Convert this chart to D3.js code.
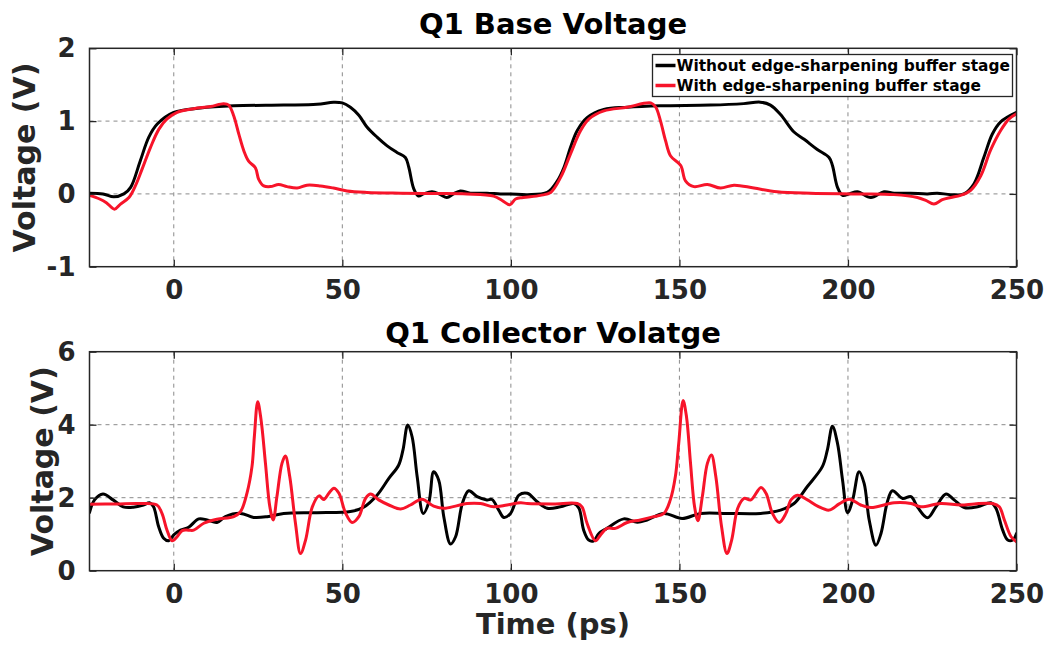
<!DOCTYPE html>
<html>
<head>
<meta charset="utf-8">
<script src="https://cdn.jsdelivr.net/npm/d3@7"></script>
<style>
  html, body { margin: 0; padding: 0; background: #fff; }
  svg { display: block; font-family: "DejaVu Sans", sans-serif; font-weight: bold; }
</style>
</head>
<body>
<svg id="chart" width="1057" height="645"></svg>
<script>
// Time samples (ps) and voltages (V) for each trace
const baseBlackT = [-25,-21,-17.8,-14.8,-12.8,-9.9,-7.4,-4.9,0,7.9,17.8,32.6,42.5,47.4,50,52.4,54.9,57.3,60.3,63.3,66.2,68.7,69.7,71.2,72.6,74.1,76.6,79.1,81,83,85,88,92.9,96.9,100,104.9,110.8,113.8,115.8,117.7,119.7,122.7,127.6,134.5,144.4,159.2,169.1,174,177,180,184,187,190.9,194.4,195.4,196.9,198.4,200.4,202.8,206.8,210.7,213.7,218.6,223.6,226.5,230.5,234.4,237.4,240.3,242.8,245.3,250];
const baseBlackV = [0.01,0,-0.04,0,0.09,0.46,0.78,0.96,1.12,1.18,1.21,1.22,1.23,1.26,1.25,1.19,1.08,0.92,0.78,0.66,0.57,0.50,0.37,0.07,-0.03,0,0.03,-0.01,-0.05,0,0.04,0.01,0.01,0,0,-0.01,0.02,0.18,0.37,0.64,0.87,1.05,1.16,1.19,1.21,1.22,1.24,1.26,1.22,1.09,0.85,0.75,0.61,0.50,0.39,0.09,-0.02,0,0.03,-0.05,0.03,0.01,0.01,0,0.01,-0.01,0,0.14,0.50,0.82,0.99,1.12];

const baseRedT = [-25,-22,-20,-17.6,-15.8,-13.3,-11.4,-9.4,-6.9,-4.4,-2,1,5.9,10.9,14.8,16.3,17.8,19.3,20.8,22.2,24.2,25.2,26.7,28.7,31.1,33.6,36.6,39.5,43.5,47.4,51.4,57.3,67.2,77.1,87,94.9,97.4,99.7,101.4,103.6,108.8,111.8,114.8,117.7,120.7,123.2,127.6,134.5,141.5,143,144.4,145.9,147.4,150.4,151.8,154.3,158.3,162.2,166.2,172.1,179,188.9,203.7,213.6,220.6,223.1,225.5,228,230.5,233.4,236.4,239.4,242.3,245.3,247.8,250];
const baseRedV = [-0.02,-0.07,-0.12,-0.21,-0.14,-0.05,0.11,0.34,0.64,0.89,1.03,1.12,1.17,1.20,1.24,1.22,1.07,0.82,0.59,0.45,0.36,0.20,0.11,0.10,0.13,0.10,0.08,0.12,0.11,0.08,0.04,0.02,0.01,0.005,0,-0.03,-0.09,-0.15,-0.07,-0.05,-0.02,0.02,0.23,0.55,0.87,1.03,1.14,1.19,1.25,1.19,1.0,0.73,0.52,0.39,0.18,0.10,0.13,0.08,0.12,0.08,0.03,0.01,0,-0.01,-0.05,-0.09,-0.14,-0.08,-0.05,-0.02,0.05,0.25,0.60,0.87,1.03,1.10];

const collBlackT = [-25,-23.5,-21,-18,-15,-12,-9,-7.2,-6,-4.5,-3,-1.5,0,2,4.4,7.4,9.9,12.8,15.3,19.8,23.7,27.7,32.6,42.5,52.4,56.3,60.3,63.8,66.7,68,69.4,70.7,72.2,74,75.7,77.1,78.6,80.1,82.1,83.6,85.6,87.5,90,92.9,94.4,96.4,97.9,99.9,102.4,104.9,107.8,110.8,114.7,118.7,120.2,121.6,123.1,124.6,126.1,128.5,133.5,137.5,140.4,145.4,150.8,156.3,164.2,174.1,180,184,187.9,192.4,193.9,195.4,196.9,198.4,199.9,201.4,203.3,204.8,206.3,208.3,209.8,211.7,213.2,216.2,218.7,220.6,223.6,226.1,229.1,231.5,234.5,238.5,242.4,243.9,245.9,247.4,248.9,250];
const collBlackV = [1.59,1.94,2.10,1.94,1.75,1.74,1.80,1.86,1.75,1.21,0.89,0.82,0.98,1.11,1.19,1.42,1.39,1.32,1.48,1.57,1.46,1.48,1.57,1.59,1.62,1.74,2.07,2.53,2.89,3.31,3.99,3.67,2.58,1.57,1.89,2.71,2.48,1.48,0.73,0.93,1.84,2.19,2.03,1.94,1.95,1.66,1.46,1.57,2.07,2.12,1.89,1.71,1.75,1.84,1.71,1.11,0.84,0.82,1.02,1.16,1.42,1.33,1.39,1.57,1.43,1.57,1.57,1.57,1.66,1.84,2.30,2.85,3.31,3.96,3.49,2.48,1.59,1.94,2.71,2.39,1.39,0.70,1.02,1.89,2.19,1.98,2.03,1.75,1.45,1.75,2.10,1.94,1.73,1.75,1.86,1.71,1.11,0.84,0.84,1.02];

const collRedT = [-25,-17,-10,-5,-3.5,-2,-0.5,1,2.5,4.4,5.9,8.9,12.8,17.8,19.8,21.7,23.2,23.9,24.9,25.9,27.2,28.5,29.5,30.6,32.1,33.1,34.4,36.1,37.6,39.1,41.1,43.1,44.5,46,47.5,49,51,52.9,54.9,56.9,58.4,60.8,63.8,67.3,70.2,73.6,77.1,80.1,87,91,94.9,98.9,102.9,104.9,112.7,119.7,121.1,122.6,125.1,126.6,128.5,131,134.5,138.4,142.4,145.4,147.3,148.8,149.8,151.1,152.1,153.3,154.5,155.5,156.8,158.3,159.5,160.8,162.5,164.1,165.5,167.3,169.2,171.2,174.2,175.7,177.6,179.6,181.6,183.1,185,188,191,194.4,197.4,200.4,203.8,206.8,213.7,218.7,221.6,227.5,233.5,237.5,242.9,244.9,246.4,248.4,250];
const collRedV = [1.82,1.83,1.84,1.80,1.57,1.11,0.82,0.93,1.10,1.11,1.11,1.30,1.41,1.48,1.62,2.12,2.85,3.67,4.63,4.13,2.94,1.75,1.39,2.03,2.94,3.14,2.58,1.30,0.47,0.84,1.75,2.05,1.95,2.12,2.26,2.12,1.57,1.32,1.48,1.98,2.10,1.94,1.80,1.69,1.80,1.96,1.77,1.71,1.84,1.84,1.75,1.80,1.86,1.84,1.83,1.84,1.75,1.30,0.82,0.98,1.16,1.16,1.32,1.39,1.48,1.57,1.94,2.58,3.49,4.66,4.22,2.94,1.75,1.37,2.03,2.94,3.17,2.58,1.21,0.47,0.84,1.71,1.98,1.94,2.28,2.12,1.57,1.32,1.57,1.94,2.07,1.94,1.77,1.66,1.83,1.96,1.80,1.73,1.86,1.84,1.75,1.84,1.80,1.83,1.84,1.75,1.39,0.93,0.79];

const xTicks = [0, 50, 100, 150, 200, 250];
const baseYTicks = [-1, 0, 1, 2];
const collYTicks = [0, 2, 4, 6];
const seriesNames = ["Without edge-sharpening buffer stage", "With edge-sharpening buffer stage"];
const seriesColors = ["#000000", "#f7142a"];

const svg = d3.select("#chart");
svg.append("rect").attr("width", 1057).attr("height", 645).attr("fill", "#fff");

const plotLeft = 89.5, plotRight = 1016.5;
const x = d3.scaleLinear().domain([-25, 250]).range([plotLeft, plotRight]);
const axisColor = "#262626";
const intFormat = d3.formatLocale({ decimal: ".", thousands: ",", grouping: [3], currency: ["", ""], minus: "-" }).format("d");

function panel(cfg) {
  const y = d3.scaleLinear().domain(cfg.yDomain).range([cfg.bottom, cfg.top]);
  const g = svg.append("g");

  // dashed grid
  g.append("g").selectAll("line").data(xTicks.filter(t => t > -25 && t < 250)).join("line")
    .attr("x1", d => x(d)).attr("x2", d => x(d))
    .attr("y1", cfg.top).attr("y2", cfg.bottom)
    .attr("stroke", "#8a8a8a").attr("stroke-width", 1).attr("stroke-dasharray", "4,4");
  g.append("g").selectAll("line").data(cfg.yTicks.filter(t => t > cfg.yDomain[0] && t < cfg.yDomain[1])).join("line")
    .attr("x1", plotLeft).attr("x2", plotRight)
    .attr("y1", d => y(d)).attr("y2", d => y(d))
    .attr("stroke", "#8a8a8a").attr("stroke-width", 1).attr("stroke-dasharray", "4,4");

  // data lines
  const line = d3.line().x(d => x(d[0])).y(d => y(d[1])).curve(d3.curveCatmullRom.alpha(0.5));
  const clipId = "clip-" + cfg.id;
  svg.append("clipPath").attr("id", clipId).append("rect")
    .attr("x", plotLeft).attr("y", cfg.top).attr("width", plotRight - plotLeft).attr("height", cfg.bottom - cfg.top);
  cfg.series.forEach((s, i) => {
    g.append("path")
      .attr("d", line(d3.zip(s[0], s[1])))
      .attr("fill", "none").attr("stroke", seriesColors[i])
      .attr("stroke-width", 3).attr("stroke-linejoin", "round").attr("stroke-linecap", "round")
      .attr("clip-path", `url(#${clipId})`);
  });

  // axes with inward ticks on all four sides
  const tickLen = 7;
  const xb = d3.axisBottom(x).tickValues(xTicks).tickSizeInner(-tickLen).tickSizeOuter(0).tickPadding(14).tickFormat(intFormat);
  const xt = d3.axisTop(x).tickValues(xTicks).tickSizeInner(-tickLen).tickSizeOuter(0).tickFormat("");
  const yl = d3.axisLeft(y).tickValues(cfg.yTicks).tickSizeInner(-tickLen).tickSizeOuter(0).tickPadding(14).tickFormat(intFormat);
  const yr = d3.axisRight(y).tickValues(cfg.yTicks).tickSizeInner(-tickLen).tickSizeOuter(0).tickFormat("");

  const gxb = g.append("g").attr("transform", `translate(0,${cfg.bottom})`).call(xb);
  const gxt = g.append("g").attr("transform", `translate(0,${cfg.top})`).call(xt);
  const gyl = g.append("g").attr("transform", `translate(${plotLeft},0)`).call(yl);
  const gyr = g.append("g").attr("transform", `translate(${plotRight},0)`).call(yr);
  [gxb, gxt, gyl, gyr].forEach(a => {
    a.select(".domain").remove();
    a.selectAll(".tick line").attr("stroke", axisColor).attr("stroke-width", 1.3);
    a.selectAll("text").attr("fill", axisColor).attr("font-size", 26)
      .attr("font-family", "DejaVu Sans, sans-serif").attr("font-weight", "bold");
  });
  gxb.selectAll("text").attr("dy", "0.71em");

  // box
  g.append("rect").attr("x", plotLeft).attr("y", cfg.top)
    .attr("width", plotRight - plotLeft).attr("height", cfg.bottom - cfg.top)
    .attr("fill", "none").attr("stroke", axisColor).attr("stroke-width", 1.5);

  // title
  svg.append("text").attr("x", (plotLeft + plotRight) / 2).attr("y", cfg.titleY)
    .attr("text-anchor", "middle").attr("font-size", 29).attr("fill", "#000")
    .text(cfg.title);

  // y label
  svg.append("text")
    .attr("transform", `translate(${cfg.yLabelX},${(cfg.top + cfg.bottom) / 2}) rotate(-90)`)
    .attr("text-anchor", "middle").attr("font-size", 30).attr("fill", axisColor)
    .text("Voltage (V)");
  return { g, y };
}

panel({
  id: "base", top: 48.3, bottom: 266.7, yDomain: [-1, 2], yTicks: baseYTicks,
  series: [[baseBlackT, baseBlackV], [baseRedT, baseRedV]],
  title: "Q1 Base Voltage", titleY: 34, yLabelX: 35
});
panel({
  id: "coll", top: 351.7, bottom: 570.7, yDomain: [0, 6], yTicks: collYTicks,
  series: [[collBlackT, collBlackV], [collRedT, collRedV]],
  title: "Q1 Collector Volatge", titleY: 343, yLabelX: 53
});

// x-axis label
svg.append("text").attr("x", (plotLeft + plotRight) / 2).attr("y", 634)
  .attr("text-anchor", "middle").attr("font-size", 29).attr("fill", axisColor)
  .text("Time (ps)");

// legend
const lg = svg.append("g").attr("transform", "translate(652.5,54.5)");
lg.append("rect").attr("width", 360).attr("height", 42)
  .attr("fill", "#fff").attr("stroke", axisColor).attr("stroke-width", 1.3);
seriesNames.forEach((name, i) => {
  const cy = 11 + i * 20;
  lg.append("line").attr("x1", 3).attr("x2", 23).attr("y1", cy).attr("y2", cy)
    .attr("stroke", seriesColors[i]).attr("stroke-width", 3.5);
  lg.append("text").attr("x", 24).attr("y", cy).attr("dy", "0.36em")
    .attr("font-size", 15.4).attr("fill", "#000").text(name);
});
</script>
</body>
</html>
